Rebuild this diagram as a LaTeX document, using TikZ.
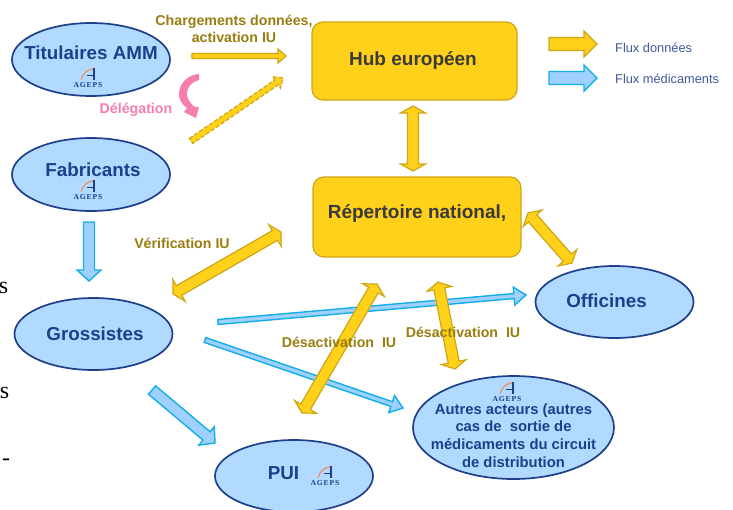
\documentclass[tikz,border=0pt]{standalone}
\usepackage{fontspec}
\setmainfont{Liberation Sans}
\newfontfamily\serifcut{Liberation Serif}
\usetikzlibrary{calc,shapes.geometric}
\definecolor{ellfill}{HTML}{B2D9FF}
\definecolor{ellline}{HTML}{1E3F8C}
\definecolor{yfill}{HTML}{FFD11A}
\definecolor{yline}{HTML}{CFA512}
\definecolor{ytext}{HTML}{9A7D10}
\definecolor{bfill}{HTML}{9FD0FF}
\definecolor{bline}{HTML}{12AEE8}
\definecolor{pinkc}{HTML}{F47FAF}
\definecolor{legtext}{HTML}{3C5A9E}
\definecolor{logoorange}{HTML}{F08A50}
\definecolor{hubtext}{HTML}{3A3A3A}
\tikzset{
  actor/.style={shape=ellipse, draw=ellline, line width=1.7pt, fill=ellfill, inner sep=0pt},
  actortext/.style={inner sep=0pt, text=ellline, font=\bfseries\fontsize{18.8}{21}\selectfont},
  hubbox/.style={draw=yline, line width=1.2pt, fill=yfill, rounded corners=11pt, inner sep=0pt},
  hubtextstyle/.style={inner sep=0pt, text=hubtext, font=\bfseries\fontsize{19}{21}\selectfont},
  ylabel/.style={text=ytext, font=\bfseries\fontsize{14.2}{16.5}\selectfont, align=center, inner sep=0pt},
  yarrow/.style={draw=yline, line width=1.2pt, fill=yfill, line join=miter},
  barrow/.style={draw=bline, line width=1.4pt, fill=bfill, line join=miter},
  legend text/.style={text=legtext, font=\fontsize{12.8}{15}\selectfont, inner sep=0pt, anchor=west},
  stray/.style={font=\serifcut\fontsize{24}{26}\selectfont, text=black, inner sep=0pt},
}
\newcommand{\fatone}[6]{%
  \coordinate (fC) at ($(#2)!#5pt!(#1)$);
  \draw[#6] ($(#1)!#3pt!90:(#2)$) -- ($(fC)!#3pt!90:(#2)$) -- ($(fC)!#4pt!90:(#2)$) -- (#2)
    -- ($(fC)!#4pt!-90:(#2)$) -- ($(fC)!#3pt!-90:(#2)$) -- ($(#1)!#3pt!-90:(#2)$) -- cycle;
}
\newcommand{\fattwo}[6]{%
  \coordinate (fC) at ($(#2)!#5pt!(#1)$);
  \coordinate (fD) at ($(#1)!#5pt!(#2)$);
  \draw[#6] (#1) -- ($(fD)!#4pt!90:(#2)$) -- ($(fD)!#3pt!90:(#2)$) -- ($(fC)!#3pt!90:(#2)$)
    -- ($(fC)!#4pt!90:(#2)$) -- (#2) -- ($(fC)!#4pt!-90:(#2)$) -- ($(fC)!#3pt!-90:(#2)$)
    -- ($(fD)!#3pt!-90:(#2)$) -- ($(fD)!#4pt!-90:(#2)$) -- cycle;
}
\newcommand{\agepslogo}[2]{%
  \node[inner sep=0pt, text=ellline, font=\serifcut\bfseries\fontsize{7.6}{8}\selectfont] (#1) at (#2) {A\kern.9pt G\kern.9pt E\kern.9pt P\kern.9pt S};
  \draw[logoorange, line width=1.1pt] ($(#1)+(-7,-5.5)$) .. controls ($(#1)+(-5,-12)$) and ($(#1)+(0,-16)$) .. ($(#1)+(6,-16.5)$);
  \draw[ellline, line width=1.6pt] ($(#1)+(6,-17)$) -- ($(#1)+(6,-5)$);
  \draw[ellline, line width=1pt] ($(#1)+(-1,-9.5)$) -- ($(#1)+(7,-9.5)$);
}
\begin{document}
\begin{tikzpicture}[x=1pt,y=-1pt]
\useasboundingbox (0,0) rectangle (733,509);
\fill[white] (0,0) rectangle (733,509);

% text at the left edge
\node[stray] (s1) at (3.5,288) {s};
\node[stray] (s2) at (4.5,393) {s};
\node[stray] (s3) at (6,462) {-};

% actors
\node[actor, minimum width=158pt, minimum height=73pt] (tit) at (91,59.5) {};
\node[actor, minimum width=158pt, minimum height=73pt] (fab) at (91,174.5) {};
\node[actor, minimum width=158pt, minimum height=72pt] (gro) at (93.5,334) {};
\node[actor, minimum width=158pt, minimum height=72pt] (pui) at (294,476) {};
\node[actor, minimum width=158pt, minimum height=72pt] (off) at (614.5,302) {};
\node[actor, minimum width=201pt, minimum height=103pt] (aut) at (513.5,427.5) {};

\node[actortext] (titt) at (91,53) {Titulaires AMM};
\node[actortext] (fabt) at (93,170) {Fabricants};
\node[actortext] (grot) at (95,334) {Grossistes};
\node[actortext] (puit) at (283.5,473) {PUI};
\node[actortext] (offt) at (606.5,301) {Officines};
\node[inner sep=0pt, text=ellline, align=center, font=\bfseries\fontsize{14.8}{17.6}\selectfont] (autt) at (513.5,435.5) {Autres acteurs (autres\\cas de\ \ sortie de\\médicaments du circuit\\de distribution};

\agepslogo{l1}{88,85}
\agepslogo{l2}{88,197}
\agepslogo{l3}{325,483}
\agepslogo{l4}{507,399}

% hubs
\node[hubbox, minimum width=205pt, minimum height=78pt] (hub) at (414.5,61) {};
\node[hubbox, minimum width=208pt, minimum height=80pt] (rep) at (417,217) {};
\node[hubtextstyle] (hubt) at (413,61) {Hub européen};
\node[hubtextstyle] (rept) at (417,213) {Répertoire national,};

% connector ends
\coordinate (a1s) at (192,56);   \coordinate (a1e) at (286,56);
\coordinate (a2s) at (191,141);  \coordinate (a2e) at (283,78);
\coordinate (a3s) at (89,222);   \coordinate (a3e) at (89,281);
\coordinate (a4s) at (218,322);  \coordinate (a4e) at (526,295);
\coordinate (a5s) at (205,340);  \coordinate (a5e) at (403,408);
\coordinate (a6s) at (152,390);  \coordinate (a6e) at (215,443);
\coordinate (d1s) at (413,106);  \coordinate (d1e) at (413,171);
\coordinate (d2s) at (528,213);  \coordinate (d2e) at (572,263);
\coordinate (d3s) at (173,294);  \coordinate (d3e) at (281,232);
\coordinate (d4s) at (302,413);  \coordinate (d4e) at (377,284);
\coordinate (d5s) at (438,282);  \coordinate (d5e) at (455,369);
\coordinate (l1s) at (549,44);   \coordinate (l1e) at (597,44);
\coordinate (l2s) at (549,78);   \coordinate (l2e) at (597,78);

% medicine flows
\fatone{a3s}{a3e}{5.5}{12}{11}{barrow}
\fatone{a4s}{a4e}{2.5}{9}{12}{barrow}
\fatone{a5s}{a5e}{2.5}{9}{12}{barrow}
\fatone{a6s}{a6e}{5.5}{12}{11}{barrow}
\fatone{l2s}{l2e}{6.5}{13}{13}{barrow}

% data flows
\fatone{a1s}{a1e}{2.5}{7}{8}{yarrow}
\fatone{a2s}{a2e}{3}{7}{8}{yarrow, dash pattern=on 4pt off 2pt}
\fattwo{d1s}{d1e}{5.5}{12.5}{7}{yarrow}
\fattwo{d2s}{d2e}{5.5}{12.5}{7}{yarrow}
\fattwo{d3s}{d3e}{5.5}{12.5}{7}{yarrow}
\fattwo{d4s}{d4e}{5.5}{12.5}{7}{yarrow}
\fattwo{d5s}{d5e}{5.5}{12.5}{7}{yarrow}
\fatone{l1s}{l1e}{6.5}{13}{13}{yarrow}

% delegation
\fill[pinkc] (199,74) .. controls (181,75) and (171,97) .. (187,108) -- (184,112) -- (196,118) -- (199,107) -- (195,107) .. controls (182,98) and (186,83) .. (199,80) -- cycle;

% labels
\node[ylabel] (lab1) at (234,29) {Chargements données,\\activation IU};
\node[ylabel, text=pinkc] (lab2) at (136,110) {Délégation};
\node[ylabel] (lab3) at (182,243) {Vérification IU};
\node[ylabel] (lab4) at (339,342) {Désactivation\ \ IU};
\node[ylabel] (lab5) at (463,332) {Désactivation\ \ IU};
\node[legend text] (lab6) at (615,48) {Flux données};
\node[legend text] (lab7) at (615,79) {Flux médicaments};
\end{tikzpicture}
\end{document}
